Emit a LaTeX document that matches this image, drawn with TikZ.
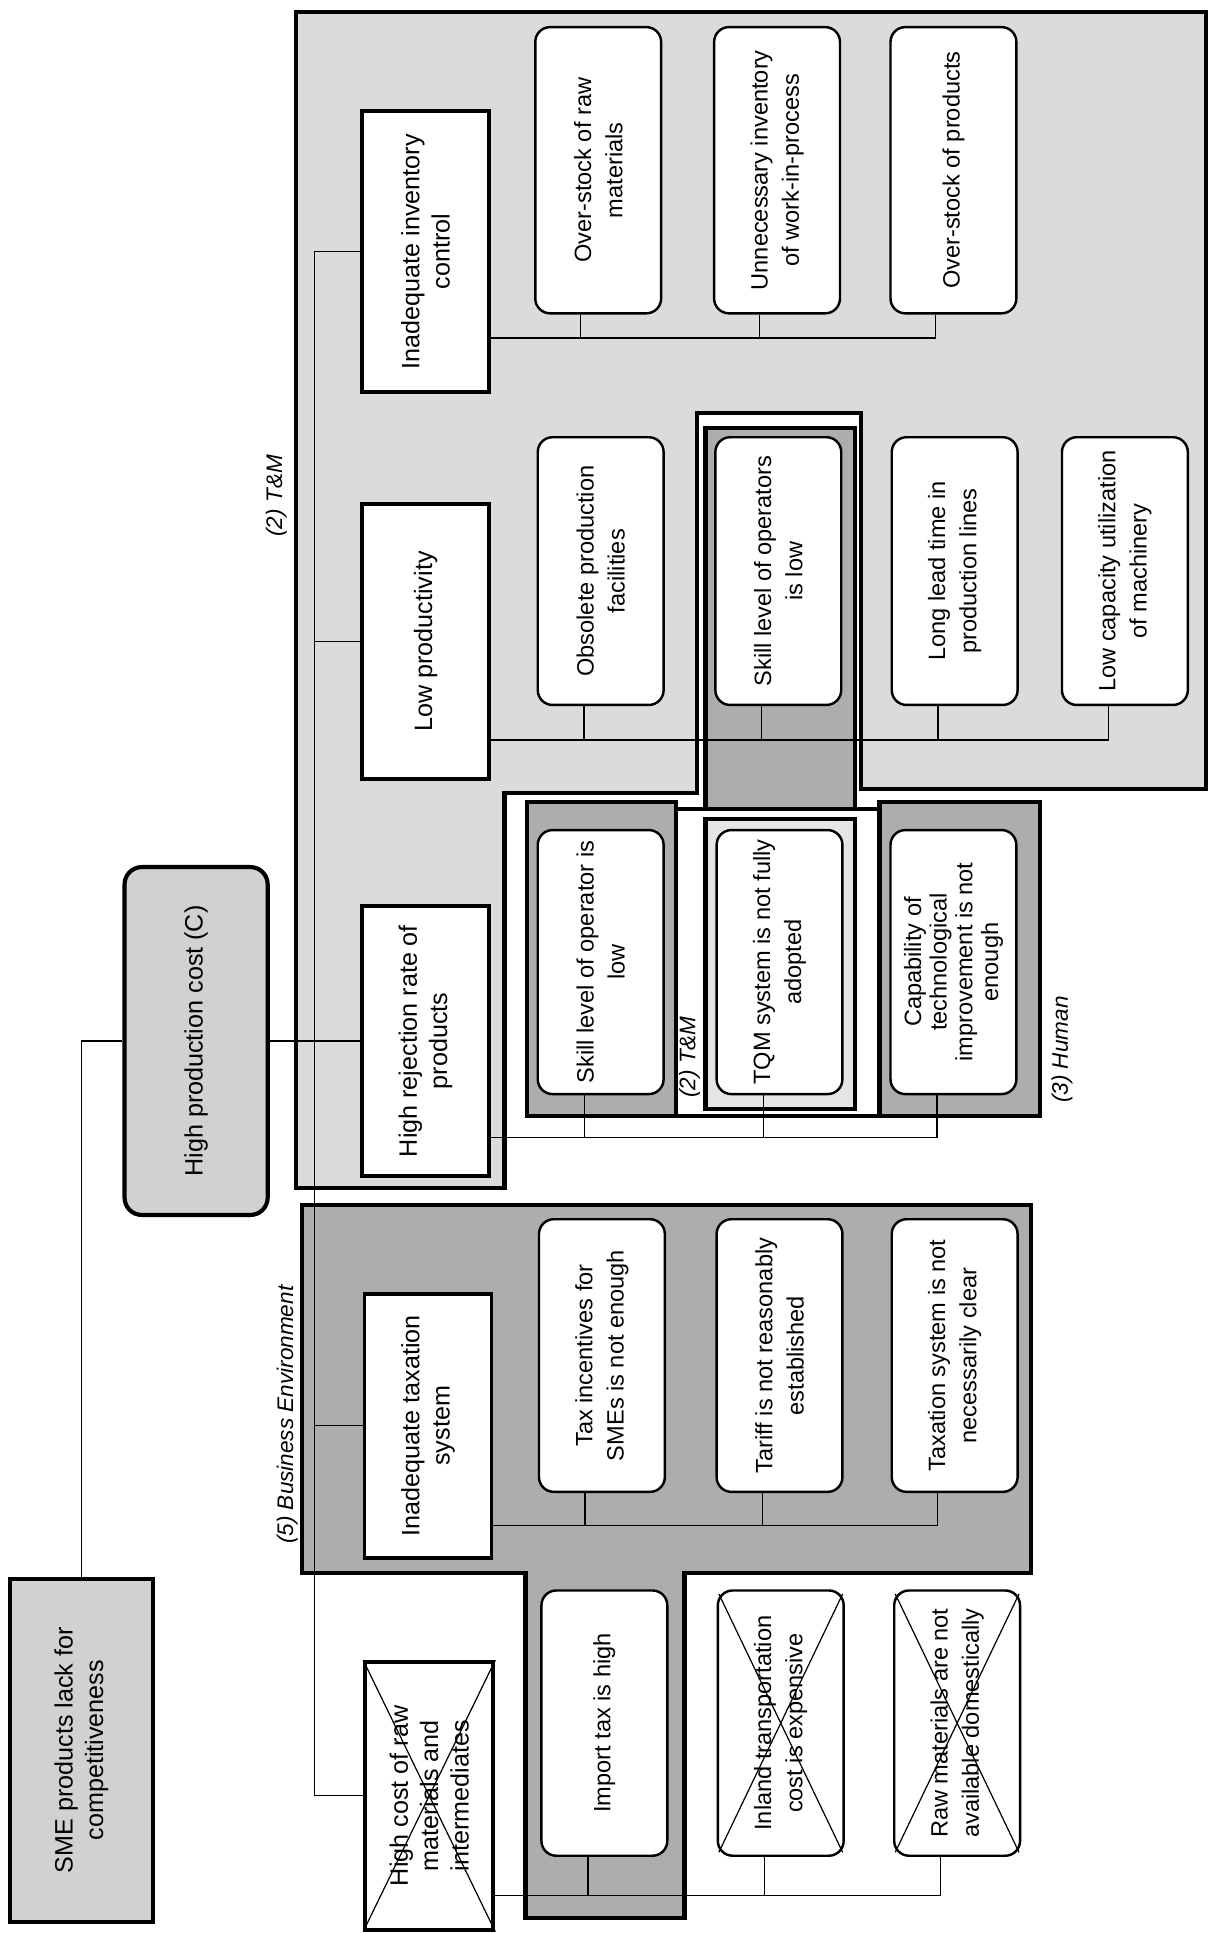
\documentclass[tikz,border=0pt]{standalone}
\usepackage{fontspec}
\setmainfont{Liberation Sans}
\usetikzlibrary{calc}

\begin{document}
\begin{tikzpicture}[x=0.025cm,y=-0.025cm,
 every node/.style={font=\fontsize{13.6}{18}\selectfont,align=center,rotate=90,inner sep=2pt},
 topbox/.style={draw,line width=2.4pt,fill=black!18,font=\fontsize{14.5}{17.5}\selectfont,minimum height=2.9cm},
 causebox/.style={draw,line width=2.2pt,fill=white,font=\fontsize{14.5}{17.5}\selectfont,minimum height=2.575cm},
 subbox/.style={draw,line width=1.4pt,fill=white,rounded corners=0.3cm,minimum height=2.55cm},
 conn/.style={line width=0.7pt},
 zone/.style={line width=2.4pt},
 grplabel/.style={font=\itshape\fontsize{13}{15}\selectfont}]
\useasboundingbox (0,0) rectangle (982,1568);
% groups
\draw[zone,fill=black!14] (240,10) -- (978,10) -- (978,640) -- (698,640) -- (698,335) -- (565,335) -- (565,643) -- (409,643) -- (409,963) -- (240,963) -- cycle;
\draw[zone,fill=black!32] (572,347) rectangle (693,664);
\draw[zone,fill=black!32] (427,650) rectangle (548,905);
\draw[zone,fill=white] (548,656) rectangle (713,905);
\draw[zone,fill=black!10] (572,664) rectangle (693,899);
\draw[zone,fill=black!32] (713,650) rectangle (843,905);
\draw[zone,fill=black!32] (245,977) -- (836,977) -- (836,1275) -- (555,1275) -- (555,1555) -- (426,1555) -- (426,1275) -- (245,1275) -- cycle;
\node[grplabel] (tml) at (224,402) {(2) T\&M};
\node[grplabel] (tmq) at (559,857) {(2) T\&M};
\node[grplabel] (hum) at (861,851) {(3) Human};
\node[grplabel] (bel) at (233,1147) {(5) Business Environment};
% problems
\node[topbox,minimum width=6.95cm] (sme) at (66,1419) {SME products lack for\\competitiveness};
\node[topbox,rounded corners=0.35cm,minimum width=7.05cm] (hpc) at (159,844) {High production cost (C)};
\node[causebox,minimum width=5.7cm] (inv) at (345,204) {Inadequate inventory\\control};
\node[causebox,minimum width=5.575cm] (lowp) at (345,520) {Low productivity};
\node[causebox,minimum width=5.475cm] (rej) at (345,844) {High rejection rate of\\products};
\node[causebox,minimum width=5.35cm] (tax) at (347,1156) {Inadequate taxation\\system};
\node[causebox,minimum width=5.425cm,minimum height=2.6cm] (cost) at (348,1456) {High cost of raw\\materials and\\intermediates};
% causes
\foreach \n/\x/\t in {o1/485/{Over-stock of raw\\materials},o2/630/{Unnecessary inventory\\of work-in-process},o3/773/{Over-stock of products}}
 \node[subbox,minimum width=5.8cm] (\n) at (\x,138) {\t};
\foreach \n/\x/\t in {p1/487/{Obsolete production\\facilities},p2/631/{Skill level of operators\\is low},p3/774/{Long lead time in\\production lines},p4/912/{Low capacity utilization\\of machinery}}
 \node[subbox,minimum width=5.425cm] (\n) at (\x,463) {\t};
\node[subbox,minimum width=5.35cm] (h1) at (487,780) {Skill level of operator is\\low};
\node[subbox,minimum width=5.35cm] (h2) at (632,780) {TQM system is not fully\\adopted};
\node[subbox,minimum width=5.35cm,font=\fontsize{13.6}{14.8}\selectfont] (h3) at (773,780) {Capability of\\technological\\improvement is not\\enough};
\foreach \n/\x/\t in {t1/488/{Tax incentives for\\SMEs is not enough},t2/632/{Tariff is not reasonably\\established},t3/774/{Taxation system is not\\necessarily clear}}
 \node[subbox,minimum width=5.525cm] (\n) at (\x,1099) {\t};
\foreach \n/\x/\t in {r1/490/{Import tax is high},r2/633/{Inland transportation\\cost is expensive},r3/776/{Raw materials are not\\available domestically}}
 \node[subbox,minimum width=5.375cm] (\n) at (\x,1397) {\t};
% links
\coordinate (bus) at (255,0);
\draw[conn] (sme.east) |- (hpc.north);
\draw[conn] (hpc.south) -- (rej.north);
\draw[conn] (inv.north) -- (inv.north -| bus) -- (cost.north -| bus) -- (cost.north);
\foreach \p in {lowp,tax} \draw[conn] (\p.north) -- (\p.north -| bus);
\foreach \p/\y/\a/\b/\c in {inv/274/o1/o2/o3,rej/922/h1/h2/h3,tax/1237/t1/t2/t3,cost/1537/r1/r2/r3}{
 \coordinate (row) at (0,\y);
 \draw[conn] (\p.south |- row) -| (\c.173);
 \foreach \k in {\a,\b} \draw[conn] (\k.173) -- (\k.173 |- row);}
\coordinate (prow) at (0,600);
\draw[conn] (lowp.south |- prow) -| (p4.173);
\foreach \k in {p1,p2,p3} \draw[conn] (\k.173) -- (\k.173 |- prow);
% ruled out
\draw[conn] (cost.north west) -- (cost.south east);
\draw[conn] (cost.north east) -- (cost.south west);
\foreach \k in {r2,r3}{
 \draw[conn,shorten <=3pt,shorten >=3pt] (\k.north west) -- (\k.south east);
 \draw[conn,shorten <=3pt,shorten >=3pt] (\k.north east) -- (\k.south west);}
\end{tikzpicture}
\end{document}
